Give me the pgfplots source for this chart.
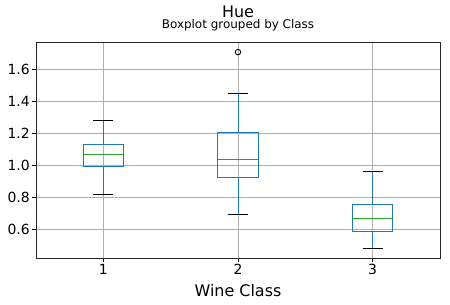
\documentclass[border=0pt]{standalone}
\usepackage{pgfplots}
\pgfplotsset{compat=1.18}
\usepgfplotslibrary{statistics}
\usepackage{fontspec}
\setmainfont{DejaVu Sans}
\definecolor{mplblue}{HTML}{1F77B4}
\definecolor{mplgreen}{HTML}{2CA02C}
\definecolor{gridgray}{HTML}{B0B0B0}
\definecolor{spine}{HTML}{262626}
\begin{document}
\begin{tikzpicture}
\begin{axis}[
  scale only axis, width=404bp, height=216.3bp,
  xmin=0.5, xmax=3.5, ymin=0.419, ymax=1.769,
  xtick={1,2,3}, ytick={0.6,0.8,1.0,1.2,1.4,1.6},
  xticklabels={1,2,3},
  yticklabel style={/pgf/number format/fixed, /pgf/number format/fixed zerofill, /pgf/number format/precision=1, inner sep=2.5bp},
  /pgf/number format/assume math mode=true,
  ticklabel style={font=\fontsize{14}{16}\selectfont, text=black},
  xticklabel style={inner sep=2.5bp},
  tick pos=left, tick align=outside, major tick length=3.5bp,
  every tick/.style={black, line width=0.8bp},
  axis line style={spine, line width=0.8bp},
  grid=major, major grid style={gridgray, line width=0.8bp},
  xlabel={Wine Class},
  xlabel style={font=\fontsize{16}{19}\selectfont, at={(axis description cs:0.5,0)}, anchor=base, yshift=-37.7bp},
  boxplot/draw direction=y,
  boxplot/box extend=0.3,
  boxplot/whisker extend=0.15,
  boxplot/every box/.style={draw=mplblue, line width=1bp},
  boxplot/every median/.style={draw=mplgreen, line width=1bp},
  boxplot/draw/lower whisker/.code={%
    \draw[mplblue, line width=1bp] (boxplot cs:\pgfplotsboxplotvalue{lower whisker}) -- (boxplot cs:\pgfplotsboxplotvalue{lower quartile});
    \draw[black, line width=1bp] (boxplot whisker cs:\pgfplotsboxplotvalue{lower whisker},0) -- (boxplot whisker cs:\pgfplotsboxplotvalue{lower whisker},1);
  },
  boxplot/draw/upper whisker/.code={%
    \draw[mplblue, line width=1bp] (boxplot cs:\pgfplotsboxplotvalue{upper quartile}) -- (boxplot cs:\pgfplotsboxplotvalue{upper whisker});
    \draw[black, line width=1bp] (boxplot whisker cs:\pgfplotsboxplotvalue{upper whisker},0) -- (boxplot whisker cs:\pgfplotsboxplotvalue{upper whisker},1);
  },
]
\addplot[mplblue, line width=1bp, boxplot prepared={draw position=1,
  lower whisker=0.82, lower quartile=0.994, median=1.069, upper quartile=1.131, upper whisker=1.28}] coordinates {};
\addplot[mplblue, line width=1bp, boxplot prepared={draw position=2,
  lower whisker=0.694, lower quartile=0.925, median=1.0375, upper quartile=1.204, upper whisker=1.45}] coordinates {};
\addplot[mplblue, line width=1bp, boxplot prepared={draw position=3,
  lower whisker=0.48, lower quartile=0.5875, median=0.669, upper quartile=0.756, upper whisker=0.9625}] coordinates {};
\addplot[only marks, mark=o, mark size=2.7bp, black, mark options={line width=0.9bp}] coordinates {(2,1.706)};
\end{axis}
\node[anchor=base, font=\fontsize{16}{19}\selectfont] at (202bp,241bp) {Hue};
\node[anchor=base, font=\fontsize{12}{14}\selectfont] at (202bp,229.4bp) {Boxplot grouped by Class};
\pgfresetboundingbox
\path[use as bounding box] (-36bp,-46.7bp) rectangle (414bp,258.3bp);
\end{tikzpicture}
\end{document}
